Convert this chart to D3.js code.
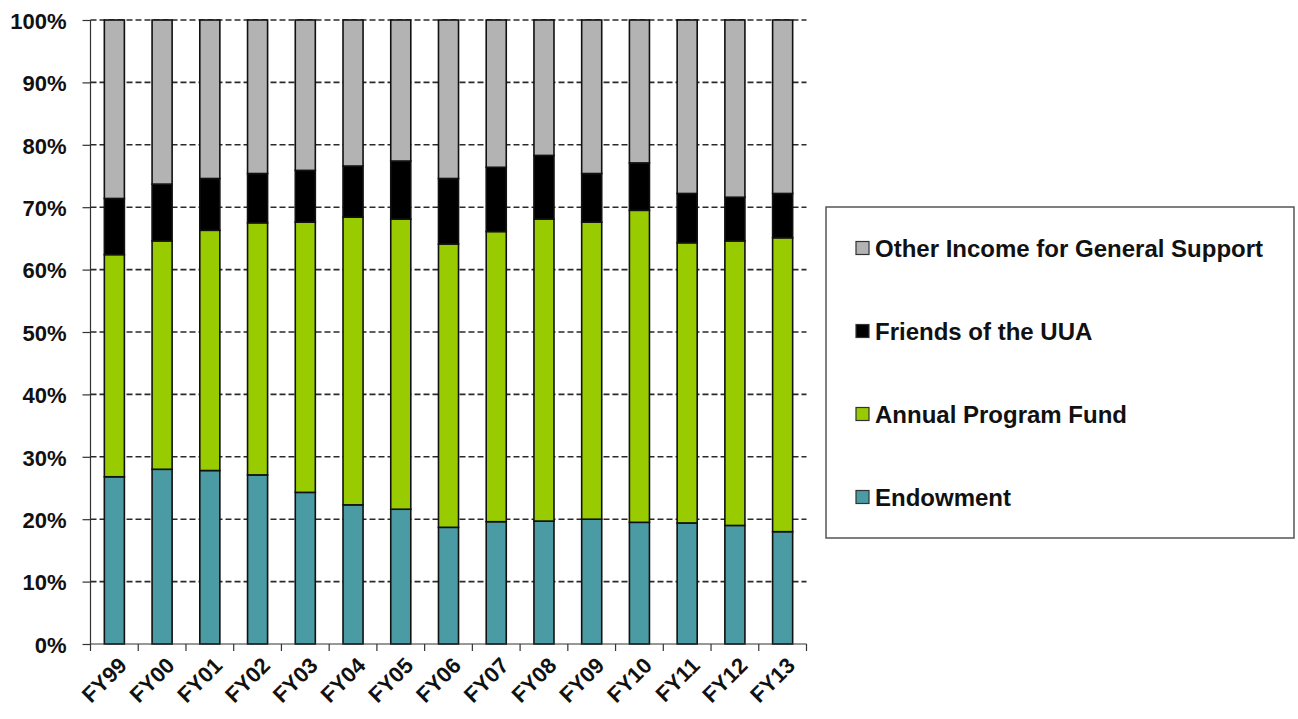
<!DOCTYPE html>
<html>
<head>
<meta charset="utf-8">
<script src="https://cdn.jsdelivr.net/npm/d3@7"></script>
<style>
  body { margin: 0; background: #fff; }
  svg text { font-family: "Liberation Sans", Arial, sans-serif; font-weight: bold; fill: #111; }
</style>
</head>
<body>
<svg id="chart" width="1298" height="719"></svg>
<script>
// fiscal years
var years = ["FY99","FY00","FY01","FY02","FY03","FY04","FY05","FY06","FY07","FY08","FY09","FY10","FY11","FY12","FY13"];

// share of income (%) per source
var endowment  = [26.8, 28.0, 27.8, 27.1, 24.3, 22.3, 21.6, 18.7, 19.6, 19.7, 20.0, 19.5, 19.4, 19.0, 18.0];
var annualFund = [35.6, 36.6, 38.5, 40.4, 43.3, 46.1, 46.5, 45.4, 46.5, 48.4, 47.6, 50.0, 44.9, 45.6, 47.1];
var friends    = [ 9.0,  9.1,  8.3,  7.9,  8.3,  8.2,  9.3, 10.5, 10.3, 10.2,  7.8,  7.6,  7.9,  7.0,  7.1];
var otherInc   = [28.6, 26.3, 25.4, 24.6, 24.1, 23.4, 22.6, 25.4, 23.6, 21.7, 24.6, 22.9, 27.8, 28.4, 27.8];

var yTicks = [0, 10, 20, 30, 40, 50, 60, 70, 80, 90, 100];

var seriesKeys   = ["endowment", "annualFund", "friends", "otherInc"];
var seriesNames  = ["Endowment", "Annual Program Fund", "Friends of the UUA", "Other Income for General Support"];
var seriesColors = ["#4a9ba3", "#99cc00", "#000000", "#b3b3b3"];

var rows = years.map(function(yr, i) {
    return { year: yr, endowment: endowment[i], annualFund: annualFund[i], friends: friends[i], otherInc: otherInc[i] };
});

var svg = d3.select("#chart");
var plotLeft = 90.5, plotRight = 806.5, plotTop = 20, plotBottom = 644;

var x = d3.scaleBand().domain(years).range([plotLeft, plotRight]).paddingInner(0.58).paddingOuter(0.29);
var xb = d3.scaleBand().domain(years).range([plotLeft, plotRight]);
var y = d3.scaleLinear().domain([0, 100]).range([plotBottom, plotTop]);

// dashed gridlines
svg.append("g").selectAll("line")
    .data(yTicks.filter(function(d) { return d > 0; }))
    .enter().append("line")
    .attr("x1", plotLeft).attr("x2", plotRight)
    .attr("y1", function(d) { return y(d); })
    .attr("y2", function(d) { return y(d); })
    .attr("stroke", "#2a2a2a")
    .attr("stroke-width", 1.6)
    .attr("stroke-dasharray", "6,3");

// y axis
var yAxis = svg.append("g")
    .attr("transform", "translate(" + plotLeft + ",0)")
    .call(d3.axisLeft(y).tickValues(yTicks).tickSize(8).tickPadding(16)
        .tickFormat(function(d) { return d + "%"; }));
yAxis.selectAll("path, line").attr("stroke", "#333").attr("stroke-width", 1.2);
yAxis.select(".domain").attr("d", "M0," + plotTop + "V" + plotBottom);
yAxis.selectAll("text").style("font-size", "22px").attr("dy", "0.38em");

// stacked bars
var stack = d3.stack().keys(seriesKeys);
var layers = stack(rows);

svg.append("g").selectAll("g")
    .data(layers)
    .enter().append("g")
    .attr("fill", function(d, i) { return seriesColors[i]; })
    .selectAll("rect")
    .data(function(d) { return d; })
    .enter().append("rect")
    .attr("x", function(d) { return x(d.data.year); })
    .attr("width", x.bandwidth())
    .attr("y", function(d) { return y(d[1]); })
    .attr("height", function(d) { return y(d[0]) - y(d[1]); })
    .attr("stroke", "#111")
    .attr("stroke-width", 1.6);

// x axis
var xg = svg.append("g").attr("transform", "translate(0," + plotBottom + ")");
xg.append("line").attr("x1", plotLeft).attr("x2", plotRight).attr("stroke", "#333").attr("stroke-width", 1.2);
xg.selectAll(".tk")
    .data(years.concat(["end"]))
    .enter().append("line")
    .attr("x1", function(d, i) { return plotLeft + i * xb.bandwidth(); })
    .attr("x2", function(d, i) { return plotLeft + i * xb.bandwidth(); })
    .attr("y1", 0).attr("y2", 7)
    .attr("stroke", "#333").attr("stroke-width", 1.2);
xg.selectAll("text")
    .data(years)
    .enter().append("text")
    .attr("transform", function(d) {
        return "translate(" + (xb(d) + xb.bandwidth() / 2 + 3) + ",12) rotate(-45)";
    })
    .attr("text-anchor", "end")
    .attr("dy", "0.7em")
    .style("font-size", "22px")
    .text(function(d) { return d; });

// legend
var lg = svg.append("g");
lg.append("rect")
    .attr("x", 826).attr("y", 207).attr("width", 468).attr("height", 331)
    .attr("fill", "#fff").attr("stroke", "#555").attr("stroke-width", 1.5);

var legendOrder = [3, 2, 1, 0];
var item = lg.selectAll(".item")
    .data(legendOrder)
    .enter().append("g")
    .attr("transform", function(d, i) { return "translate(856," + (248 + i * 83) + ")"; });
item.append("rect")
    .attr("x", 0).attr("y", -6.5).attr("width", 13).attr("height", 13)
    .attr("fill", function(d) { return seriesColors[d]; })
    .attr("stroke", "#333").attr("stroke-width", 1.2);
item.append("text")
    .attr("x", 19).attr("dy", "0.36em")
    .style("font-size", "24px")
    .text(function(d) { return seriesNames[d]; });
</script>
</body>
</html>
